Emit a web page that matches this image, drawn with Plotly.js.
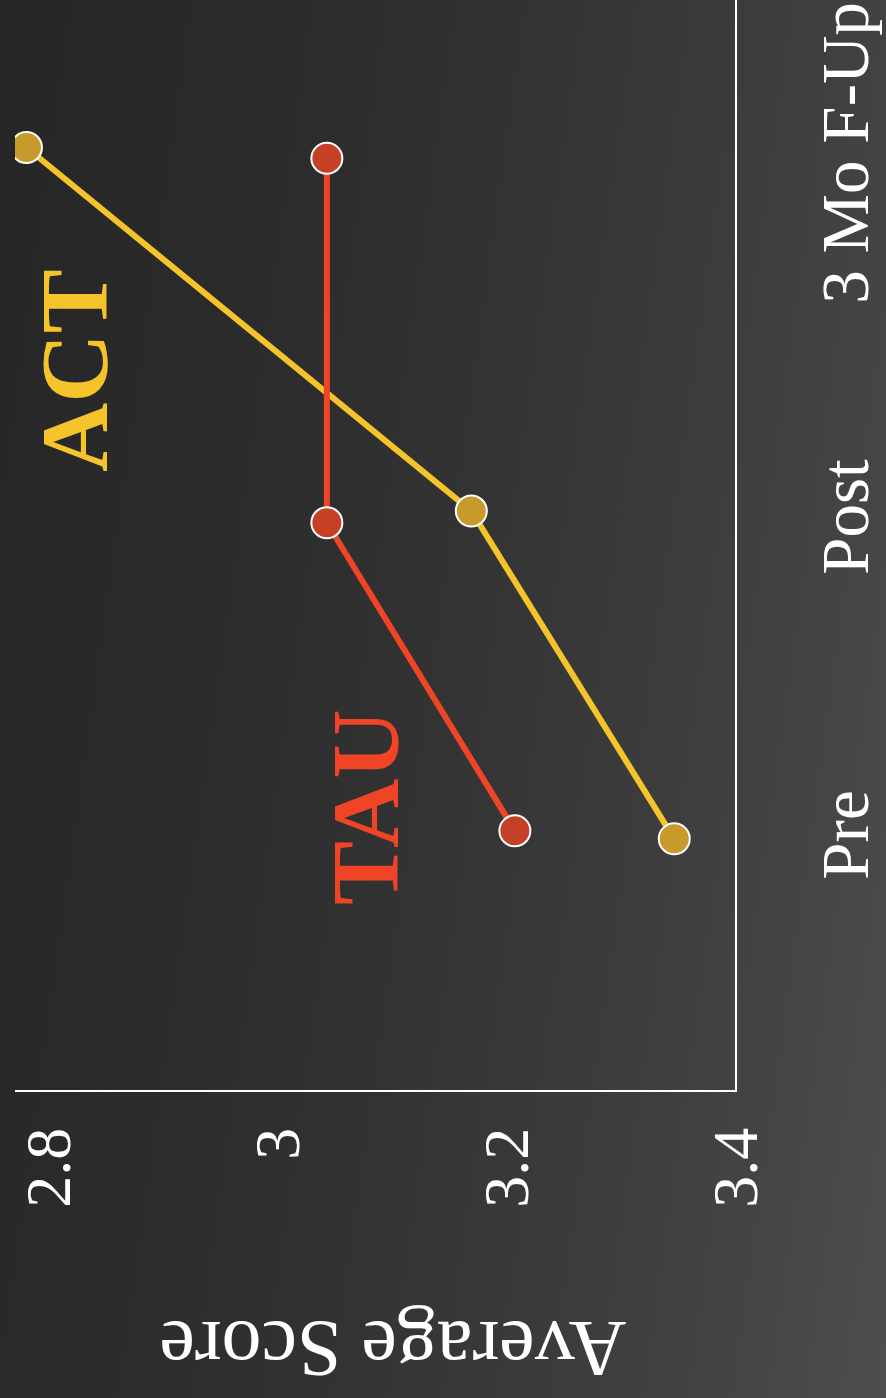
<!DOCTYPE html>
<html>
<head>
<meta charset="utf-8">
<script src="https://cdn.plot.ly/plotly-3.0.1.min.js"></script>
<style>
  html, body { margin: 0; padding: 0; width: 886px; height: 1398px; overflow: hidden; }
  body { background: linear-gradient(98deg, #272627 0%, #2d2c2d 30%, #343334 50%, #3c3c3d 70%, #444446 85%, #4d4e50 100%); }
  #chart { position: absolute; left: 0; top: 0; width: 1398px; height: 886px;
           transform-origin: 0 0; transform: translateY(1398px) rotate(-90deg); }
</style>
</head>
<body>
<div id="chart"></div>
<script>
// Time points (categories) and their positions on the time axis
const timeLabels = ['Pre', 'Post', '3 Mo F-Up'];
const timePos = [0, 1, 2.145];
// small horizontal dodge of each group at each time point
const actDodge = [-0.012, 0.019, 0.017];
const tauDodge = [0.013, -0.018, -0.017];
// Average scores
const actScores = [3.347, 3.170, 2.782];
const tauScores = [3.208, 3.044, 3.044];
// value-axis ticks
const scoreTicks = [2.8, 3.0, 3.2, 3.4];
const scoreTickText = ['2.8', '3', '3.2', '3.4'];

const font = 'Liberation Serif, Times New Roman, serif';

const actX = timePos.map((t, i) => t + actDodge[i]);
const tauX = timePos.map((t, i) => t + tauDodge[i]);

const traces = [
  {
    x: actX, y: actScores, type: 'scatter', mode: 'lines+markers', name: 'ACT',
    line: { color: '#f4c42a', width: 6 },
    marker: { size: 31, color: '#c79a2b', line: { color: '#ffffff', width: 2 } },
    hoverinfo: 'skip'
  },
  {
    x: tauX, y: tauScores, type: 'scatter', mode: 'lines+markers', name: 'TAU',
    line: { color: '#ef4426', width: 6 },
    marker: { size: 31, color: '#c44128', line: { color: '#ffffff', width: 2 } },
    hoverinfo: 'skip'
  }
];

const layout = {
  width: 1398, height: 886,
  paper_bgcolor: 'rgba(0,0,0,0)',
  plot_bgcolor: 'rgba(0,0,0,0)',
  showlegend: false,
  margin: { l: 308, r: 0, t: 15, b: 151 },
  font: { family: font, color: '#ffffff' },
  xaxis: {
    range: [-0.802, 2.626],
    tickmode: 'array', tickvals: timePos, ticktext: timeLabels,
    showline: true, linecolor: '#ffffff', linewidth: 2,
    showgrid: false, zeroline: false, ticks: '',
    ticklabelstandoff: 51,
    tickfont: { family: font, size: 67, color: '#ffffff' }
  },
  yaxis: {
    range: [3.4, 2.772],
    tickmode: 'array', tickvals: scoreTicks, ticktext: scoreTickText,
    showline: true, linecolor: '#ffffff', linewidth: 2,
    showgrid: false, zeroline: false, ticks: '',
    ticklabelstandoff: 23,
    tickfont: { family: font, size: 64, color: '#ffffff' }
  },
  annotations: [
    { x: -0.238, y: 0.475, xref: 'paper', yref: 'paper', text: 'Average Score', showarrow: false,
      textangle: -90, xanchor: 'center', yanchor: 'middle',
      font: { family: font, size: 80, color: '#ffffff' } },
    { x: 1.462, y: 2.824, xref: 'x', yref: 'y', text: '<b>ACT</b>', showarrow: false,
      xanchor: 'center', yanchor: 'middle',
      font: { family: font, size: 96, color: '#f4c42a' } },
    { x: 0.088, y: 3.078, xref: 'x', yref: 'y', text: '<b>TAU</b>', showarrow: false,
      xanchor: 'center', yanchor: 'middle',
      font: { family: font, size: 96, color: '#ef4426' } }
  ]
};

Plotly.newPlot('chart', traces, layout, { staticPlot: true, displayModeBar: false });
</script>
</body>
</html>
